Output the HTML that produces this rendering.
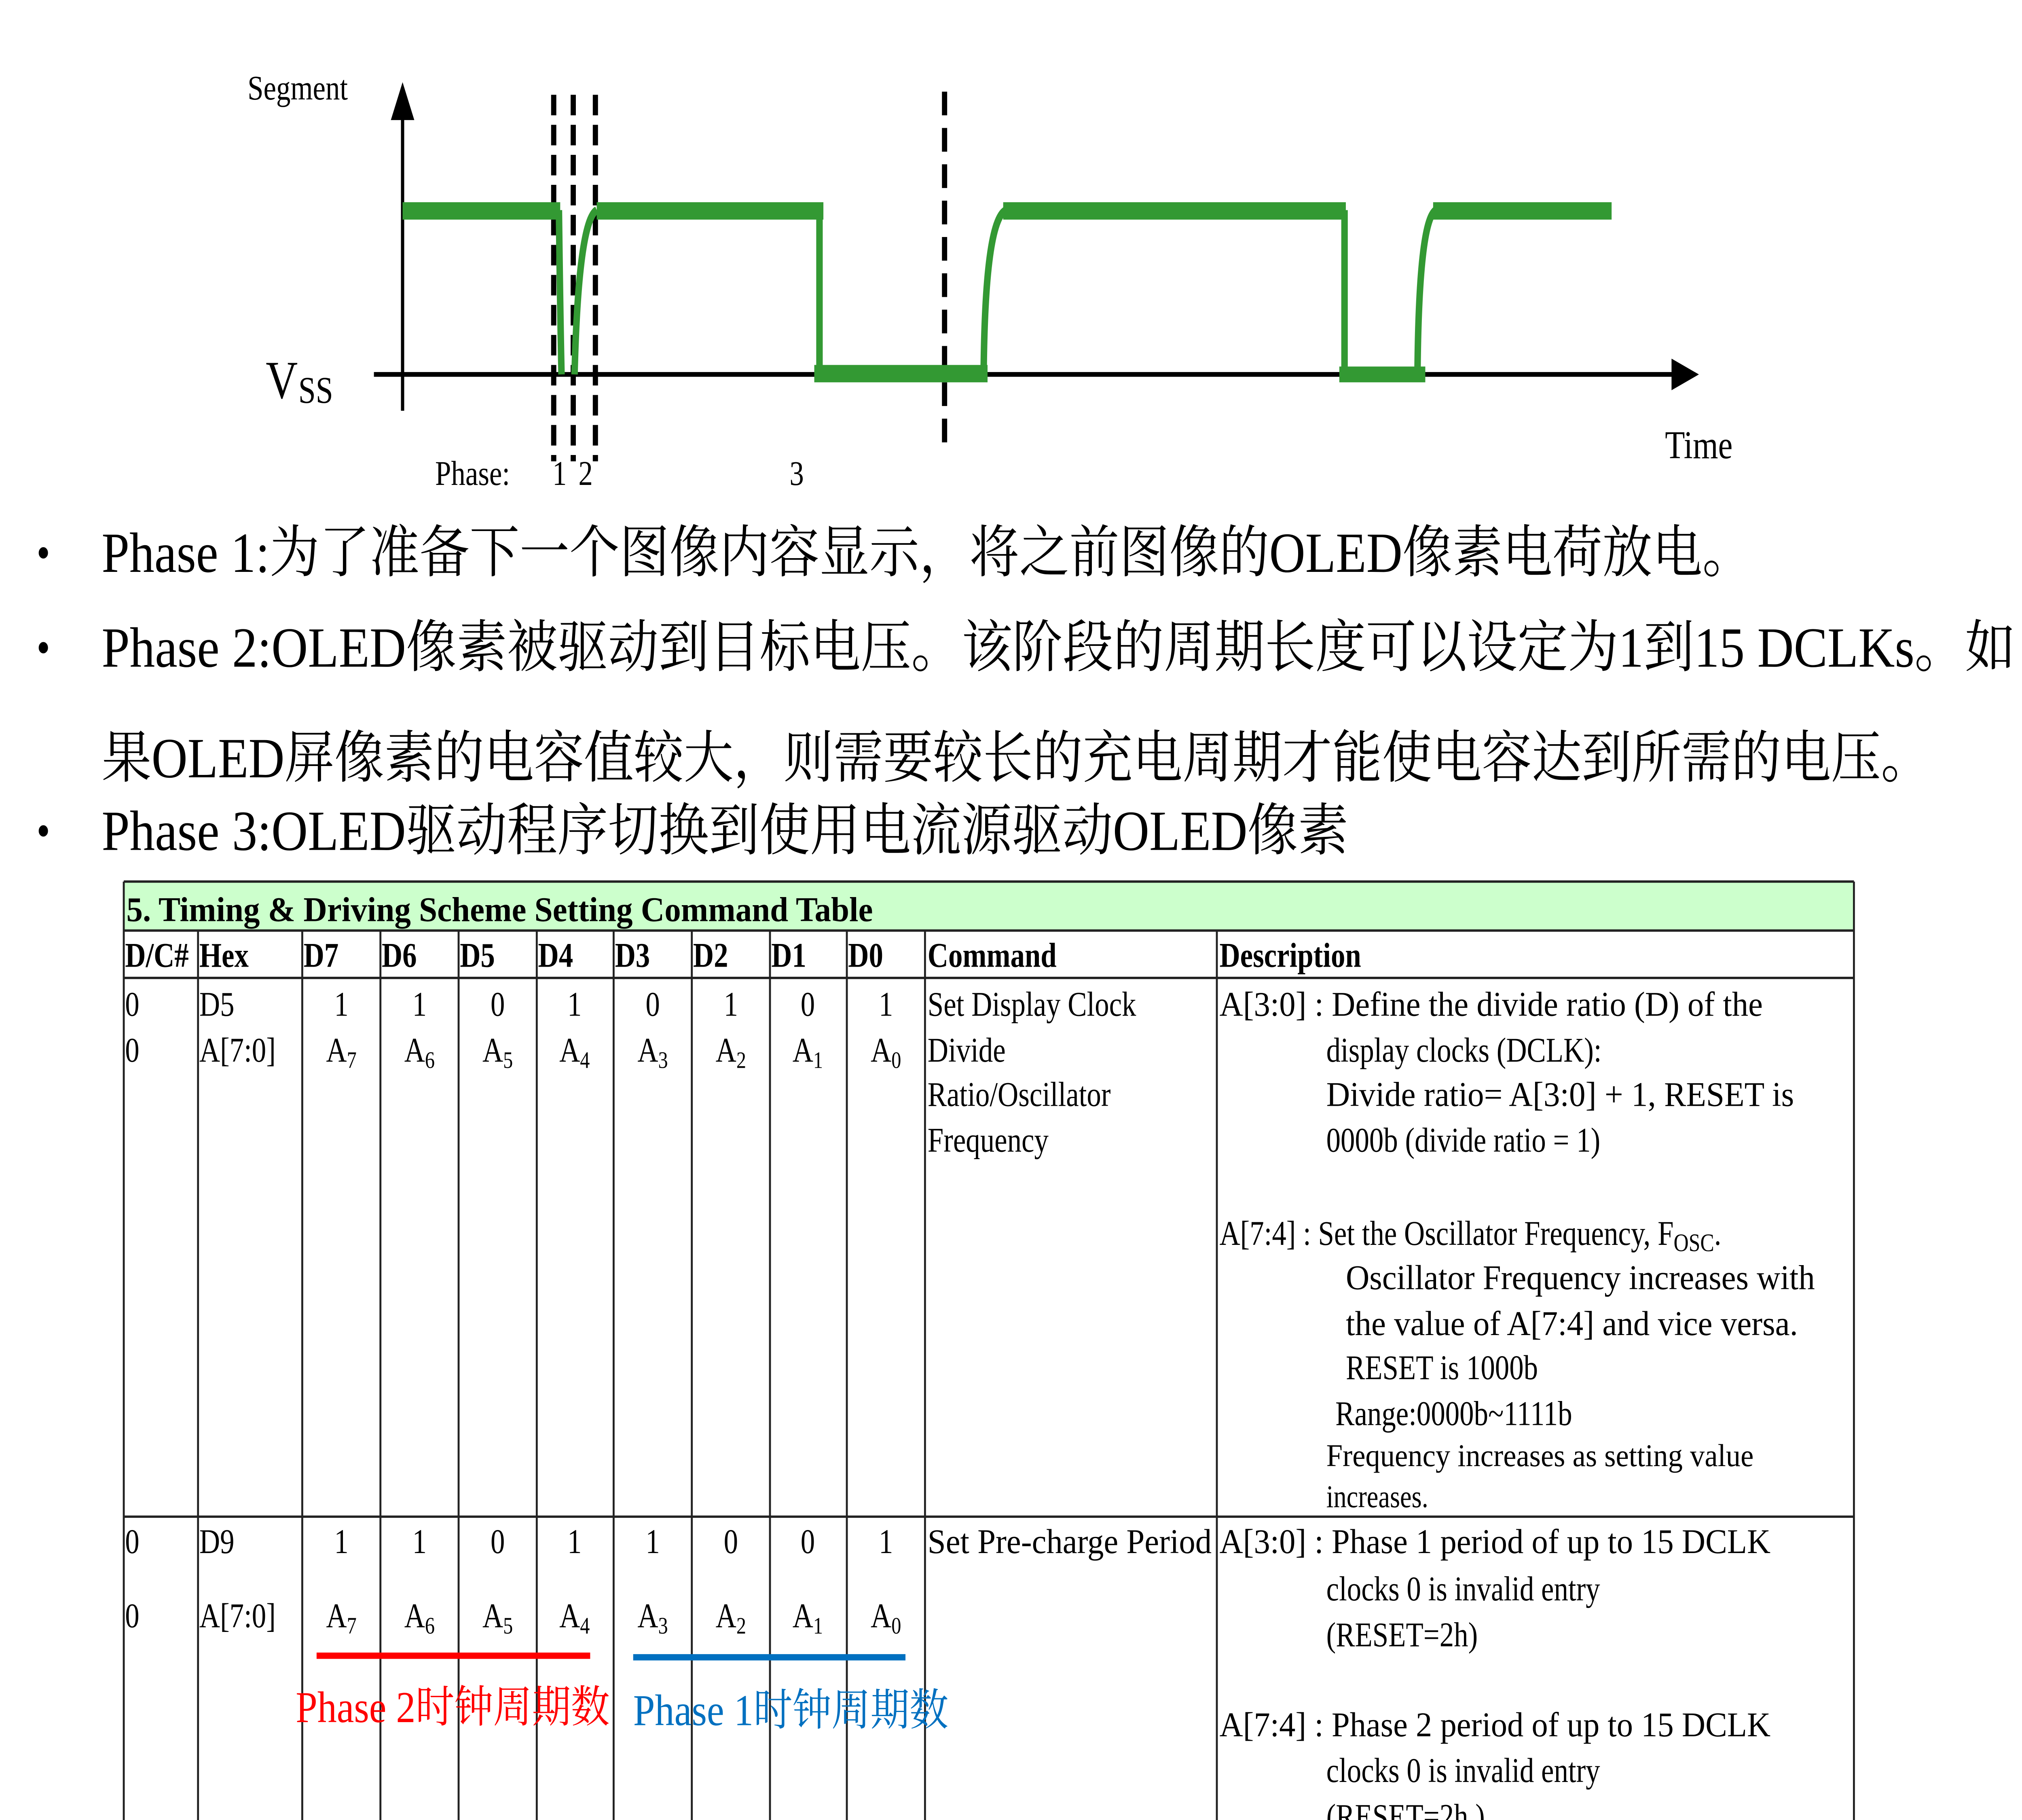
<!DOCTYPE html>
<html><head><meta charset="utf-8"><style>
html,body{margin:0;padding:0;background:#fff;width:100%;height:100%;overflow:hidden}
svg{display:block;position:fixed;left:0;top:0;width:100vw;height:100vh}
text{font-family:"Liberation Serif","Noto Serif CJK SC","Noto Sans CJK SC",serif;fill:#000}
.t{font-size:22px}
.b{font-size:22px;font-weight:bold}
.c{text-anchor:middle}
.big{font-size:36px}
</style></head><body>
<svg viewBox="0 0 1552 1152" preserveAspectRatio="none" xmlns="http://www.w3.org/2000/svg">
<rect width="1552" height="1152" fill="#fff"/>
<text x="190" y="63" class="t">Segment</text>
<line x1="309" y1="70" x2="309" y2="260" stroke="#000" stroke-width="2.5"/>
<polygon points="309,52 300,76 318,76" fill="#000"/>
<line x1="287" y1="237" x2="1288" y2="237" stroke="#000" stroke-width="3"/>
<polygon points="1304,237 1283,227 1283,247" fill="#000"/>
<text x="204" y="252" style="font-size:34px">V</text><text x="229" y="255" style="font-size:24px">SS</text>
<g stroke="#000" stroke-width="4" stroke-dasharray="13,6">
<line x1="425" y1="60" x2="425" y2="292"/><line x1="440" y1="60" x2="440" y2="292"/><line x1="457" y1="60" x2="457" y2="292"/>
</g>
<line x1="725" y1="58" x2="725" y2="287" stroke="#000" stroke-width="4" stroke-dasharray="15,8"/>
<g fill="#339933">
<rect x="309" y="128" width="121" height="11"/>
<rect x="458" y="128" width="174" height="11"/>
<rect x="625" y="231" width="133" height="11"/>
<rect x="770" y="128" width="263" height="11"/>
<rect x="1028" y="232" width="66" height="10"/>
<rect x="1100" y="128" width="137" height="11"/>
</g>
<g fill="none" stroke="#339933" stroke-width="5">
<path d="M429,133 Q430,200 431,237"/>
<path d="M441,237 Q444,140 458,133"/>
<path d="M629,133 V237"/>
<path d="M755,237 Q756,140 772,133"/>
<path d="M1032,133 V237"/>
<path d="M1088,237 Q1089,140 1102,133"/>
</g>
<text x="334" y="307" class="t">Phase:</text>
<text x="424" y="307" class="t">1</text><text x="444" y="307" class="t">2</text>
<text x="606" y="307" class="t">3</text>
<text x="1278" y="290" style="font-size:25px">Time</text>
<text x="28" y="360" style="font-size:30px">•</text>
<text x="28" y="420" style="font-size:30px">•</text>
<text x="28" y="536" style="font-size:30px">•</text>
<text x="78" y="362" class="big" textLength="1267" lengthAdjust="spacingAndGlyphs">Phase 1:为了准备下一个图像内容显示，将之前图像的OLED像素电荷放电。</text>
<text x="78" y="422" class="big" textLength="1469" lengthAdjust="spacingAndGlyphs">Phase 2:OLED像素被驱动到目标电压。该阶段的周期长度可以设定为1到15 DCLKs。如</text>
<text x="78" y="492" class="big" textLength="1404" lengthAdjust="spacingAndGlyphs">果OLED屏像素的电容值较大，则需要较长的充电周期才能使电容达到所需的电压。</text>
<text x="78" y="538" class="big" textLength="957" lengthAdjust="spacingAndGlyphs">Phase 3:OLED驱动程序切换到使用电流源驱动OLED像素</text>
<rect x="95" y="558" width="1328" height="31" fill="#ccffcc"/>
<g stroke="#222" stroke-width="1.5">
<line x1="95" y1="558" x2="1423" y2="558"/>
<line x1="95" y1="589" x2="1423" y2="589"/>
<line x1="95" y1="619" x2="1423" y2="619"/>
<line x1="95" y1="960" x2="1423" y2="960"/>
<line x1="95" y1="558" x2="95" y2="1160"/>
<line x1="1423" y1="558" x2="1423" y2="1160"/>
<line x1="152" y1="589" x2="152" y2="1160"/><line x1="232" y1="589" x2="232" y2="1160"/>
<line x1="292" y1="589" x2="292" y2="1160"/><line x1="352" y1="589" x2="352" y2="1160"/>
<line x1="412" y1="589" x2="412" y2="1160"/><line x1="471" y1="589" x2="471" y2="1160"/>
<line x1="531" y1="589" x2="531" y2="1160"/><line x1="591" y1="589" x2="591" y2="1160"/>
<line x1="650" y1="589" x2="650" y2="1160"/><line x1="710" y1="589" x2="710" y2="1160"/>
<line x1="934" y1="589" x2="934" y2="1160"/>
</g>
<text x="97" y="583" class="b" textLength="573" lengthAdjust="spacingAndGlyphs">5. Timing &amp; Driving Scheme Setting Command Table</text>
<text x="96" y="612" class="b">D/C#</text><text x="153" y="612" class="b">Hex</text>
<text x="233" y="612" class="b">D7</text><text x="293" y="612" class="b">D6</text><text x="353" y="612" class="b">D5</text>
<text x="413" y="612" class="b">D4</text><text x="472" y="612" class="b">D3</text><text x="532" y="612" class="b">D2</text>
<text x="592" y="612" class="b">D1</text><text x="651" y="612" class="b">D0</text>
<text x="712" y="612" class="b">Command</text><text x="936" y="612" class="b">Description</text>
<text x="96" y="643" class="t">0</text><text x="96" y="672" class="t">0</text>
<text x="153" y="643" class="t">D5</text><text x="153" y="672" class="t">A[7:0]</text>
<text x="262" y="643" class="t c">1</text><text x="322" y="643" class="t c">1</text><text x="382" y="643" class="t c">0</text><text x="441" y="643" class="t c">1</text>
<text x="501" y="643" class="t c">0</text><text x="561" y="643" class="t c">1</text><text x="620" y="643" class="t c">0</text><text x="680" y="643" class="t c">1</text>
<text x="262" y="672" class="t c">A<tspan dy="4" font-size="15">7</tspan></text>
<text x="322" y="672" class="t c">A<tspan dy="4" font-size="15">6</tspan></text>
<text x="382" y="672" class="t c">A<tspan dy="4" font-size="15">5</tspan></text>
<text x="441" y="672" class="t c">A<tspan dy="4" font-size="15">4</tspan></text>
<text x="501" y="672" class="t c">A<tspan dy="4" font-size="15">3</tspan></text>
<text x="561" y="672" class="t c">A<tspan dy="4" font-size="15">2</tspan></text>
<text x="620" y="672" class="t c">A<tspan dy="4" font-size="15">1</tspan></text>
<text x="680" y="672" class="t c">A<tspan dy="4" font-size="15">0</tspan></text>
<text x="712" y="643" class="t">Set Display Clock</text><text x="712" y="672" class="t">Divide</text>
<text x="712" y="700" class="t">Ratio/Oscillator</text><text x="712" y="729" class="t">Frequency</text>
<text x="936" y="643" class="t" textLength="417" lengthAdjust="spacingAndGlyphs">A[3:0] : Define the divide ratio (D) of the</text>
<text x="1018" y="672" class="t">display clocks (DCLK):</text>
<text x="1018" y="700" class="t" textLength="359" lengthAdjust="spacingAndGlyphs">Divide ratio= A[3:0] + 1, RESET is</text>
<text x="1018" y="729" class="t">0000b (divide ratio = 1)</text>
<text x="936" y="788" class="t">A[7:4] : Set the Oscillator Frequency, F<tspan dy="4" font-size="16">OSC</tspan><tspan dy="-4">.</tspan></text>
<text x="1033" y="816" class="t" textLength="360" lengthAdjust="spacingAndGlyphs">Oscillator Frequency increases with</text>
<text x="1033" y="845" class="t" textLength="347" lengthAdjust="spacingAndGlyphs">the value of A[7:4] and vice versa.</text>
<text x="1033" y="873" class="t">RESET is 1000b</text>
<text x="1025" y="902" class="t">Range:0000b~1111b</text>
<text x="1018" y="928" style="font-size:20px" textLength="328" lengthAdjust="spacingAndGlyphs">Frequency increases as setting value</text>
<text x="1018" y="954" style="font-size:20px">increases.</text>
<text x="96" y="983" class="t">0</text><text x="96" y="1030" class="t">0</text>
<text x="153" y="983" class="t">D9</text><text x="153" y="1030" class="t">A[7:0]</text>
<text x="262" y="983" class="t c">1</text><text x="322" y="983" class="t c">1</text><text x="382" y="983" class="t c">0</text><text x="441" y="983" class="t c">1</text>
<text x="501" y="983" class="t c">1</text><text x="561" y="983" class="t c">0</text><text x="620" y="983" class="t c">0</text><text x="680" y="983" class="t c">1</text>
<text x="262" y="1030" class="t c">A<tspan dy="4" font-size="15">7</tspan></text>
<text x="322" y="1030" class="t c">A<tspan dy="4" font-size="15">6</tspan></text>
<text x="382" y="1030" class="t c">A<tspan dy="4" font-size="15">5</tspan></text>
<text x="441" y="1030" class="t c">A<tspan dy="4" font-size="15">4</tspan></text>
<text x="501" y="1030" class="t c">A<tspan dy="4" font-size="15">3</tspan></text>
<text x="561" y="1030" class="t c">A<tspan dy="4" font-size="15">2</tspan></text>
<text x="620" y="1030" class="t c">A<tspan dy="4" font-size="15">1</tspan></text>
<text x="680" y="1030" class="t c">A<tspan dy="4" font-size="15">0</tspan></text>
<text x="712" y="983" class="t" textLength="218" lengthAdjust="spacingAndGlyphs">Set Pre-charge Period</text>
<text x="936" y="983" class="t" textLength="423" lengthAdjust="spacingAndGlyphs">A[3:0] : Phase 1 period of up to 15 DCLK</text>
<text x="1018" y="1013" class="t">clocks 0 is invalid entry</text>
<text x="1018" y="1042" class="t">(RESET=2h)</text>
<text x="936" y="1099" class="t" textLength="423" lengthAdjust="spacingAndGlyphs">A[7:4] : Phase 2 period of up to 15 DCLK</text>
<text x="1018" y="1128" class="t">clocks 0 is invalid entry</text>
<text x="1018" y="1157" class="t">(RESET=2h )</text>
<line x1="243" y1="1048" x2="453" y2="1048" stroke="#ff0000" stroke-width="4"/>
<line x1="486" y1="1049" x2="695" y2="1049" stroke="#0070c0" stroke-width="4"/>
<text x="227" y="1090" style="font-size:28px;fill:#ff0000" textLength="241" lengthAdjust="spacingAndGlyphs">Phase 2时钟周期数</text>
<text x="486" y="1092" style="font-size:28px;fill:#0070c0" textLength="242" lengthAdjust="spacingAndGlyphs">Phase 1时钟周期数</text>
</svg>
</body></html>
